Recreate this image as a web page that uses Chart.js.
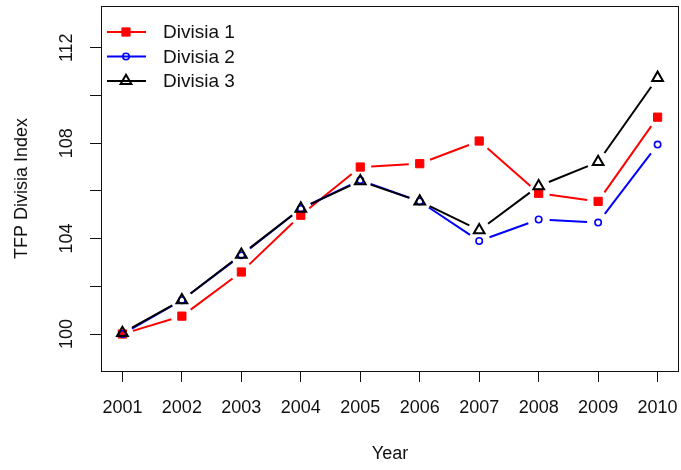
<!DOCTYPE html>
<html>
<head>
<meta charset="utf-8">
<script src="https://cdn.jsdelivr.net/npm/chart.js@4/dist/chart.umd.min.js"></script>
<style>
  html, body { margin: 0; padding: 0; background: #ffffff; }
  #wrap { width: 681px; height: 470px; }
</style>
</head>
<body>
<div id="wrap"><canvas id="chart" width="681" height="470"></canvas></div>
<script>
// TFP Divisia indices by year
const years = [2001, 2002, 2003, 2004, 2005, 2006, 2007, 2008, 2009, 2010];
const divisia1 = [100.0, 100.75, 102.6, 104.98, 107.0, 107.14, 108.09, 105.9, 105.56, 109.09];
const divisia2 = [100.0, 101.42, 103.3, 105.25, 106.45, 105.56, 103.9, 104.8, 104.67, 107.94];
const divisia3 = [100.05, 101.42, 103.33, 105.26, 106.41, 105.56, 104.35, 106.2, 107.21, 110.74];
const seriesNames = ['Divisia 1', 'Divisia 2', 'Divisia 3'];
const yTicks = [100, 102, 104, 106, 108, 110, 112];
const yLabelled = [100, 104, 108, 112];

const FONT = '"Liberation Sans", Arial, sans-serif';
const INK = '#111111';

function toPoints(values) {
  return values.map((v, i) => ({ x: years[i], y: v }));
}

// Fixed axis sizes with no extra edge padding
function fixSize(prop, size) {
  return s => {
    s[prop] = size;
    s.paddingLeft = 0;
    s.paddingRight = 0;
    s.paddingTop = 0;
    s.paddingBottom = 0;
  };
}

// Line segments that stop short of each marker (type "b" style)
const gappedLines = {
  id: 'gappedLines',
  beforeDatasetDraw(chart, args) {
    const ds = chart.data.datasets[args.index];
    const pts = args.meta.data;
    const gap = 11;
    const ctx = chart.ctx;
    ctx.save();
    ctx.strokeStyle = ds.borderColor;
    ctx.lineWidth = 2;
    ctx.lineCap = 'butt';
    for (let i = 0; i < pts.length - 1; i++) {
      const a = pts[i], b = pts[i + 1];
      const dx = b.x - a.x, dy = b.y - a.y;
      const len = Math.hypot(dx, dy);
      if (len <= 2 * gap) continue;
      const ux = dx / len, uy = dy / len;
      ctx.beginPath();
      ctx.moveTo(a.x + ux * gap, a.y + uy * gap);
      ctx.lineTo(b.x - ux * gap, b.y - uy * gap);
      ctx.stroke();
    }
    ctx.restore();
  }
};

// Frame around the plotting region
const frameBox = {
  id: 'frameBox',
  afterDraw(chart) {
    const { left, top, right, bottom } = chart.chartArea;
    const ctx = chart.ctx;
    ctx.save();
    ctx.strokeStyle = INK;
    ctx.lineWidth = 1;
    ctx.strokeRect(Math.round(left) + 0.5, Math.round(top) + 0.5,
                   Math.round(right - left) - 1, Math.round(bottom - top));
    ctx.restore();
  }
};

// Legend in the top-left corner: line through marker, then label
const cornerLegend = {
  id: 'cornerLegend',
  afterDraw(chart) {
    const ctx = chart.ctx;
    const x0 = 107, x1 = 146, xm = 126, xt = 163;
    const y0 = 32, dy = 24.5;
    ctx.save();
    chart.data.datasets.forEach((ds, i) => {
      const y = y0 + i * dy;
      ctx.strokeStyle = ds.borderColor;
      ctx.lineWidth = 2;
      ctx.beginPath();
      ctx.moveTo(x0, y);
      ctx.lineTo(x1, y);
      ctx.stroke();
      ctx.fillStyle = ds.pointBackgroundColor;
      ctx.strokeStyle = ds.pointBorderColor;
      ctx.lineWidth = ds.pointBorderWidth;
      Chart.helpers.drawPoint(ctx, {
        pointStyle: ds.pointStyle,
        radius: ds.pointRadius,
        rotation: 0,
        borderWidth: ds.pointBorderWidth
      }, xm, y);
      ctx.fillStyle = INK;
      ctx.font = '19px ' + FONT;
      ctx.textAlign = 'left';
      ctx.textBaseline = 'middle';
      ctx.fillText(ds.label, xt, y + 1);
    });
    ctx.restore();
  }
};

const baseSeries = {
  showLine: false,
  pointHoverRadius: 0
};

const data = {
  datasets: [
    Object.assign({}, baseSeries, {
      label: seriesNames[0],
      data: toPoints(divisia1),
      borderColor: '#ff0000',
      pointStyle: 'rect',
      pointRadius: 5.8,
      pointBorderWidth: 1,
      pointBackgroundColor: '#ff0000',
      pointBorderColor: '#ff0000',
      order: 3
    }),
    Object.assign({}, baseSeries, {
      label: seriesNames[1],
      data: toPoints(divisia2),
      borderColor: '#0000ff',
      pointStyle: 'circle',
      pointRadius: 3.2,
      pointBorderWidth: 1.6,
      pointBackgroundColor: 'rgba(255,255,255,0)',
      pointBorderColor: '#0000ff',
      order: 2
    }),
    Object.assign({}, baseSeries, {
      label: seriesNames[2],
      data: toPoints(divisia3),
      borderColor: '#000000',
      pointStyle: 'triangle',
      pointRadius: 6.2,
      pointBorderWidth: 2,
      pointBackgroundColor: 'rgba(255,255,255,0)',
      pointBorderColor: '#000000',
      order: 1
    })
  ]
};

new Chart(document.getElementById('chart'), {
  type: 'scatter',
  data: data,
  plugins: [gappedLines, frameBox, cornerLegend],
  options: {
    responsive: false,
    animation: false,
    events: [],
    layout: { autoPadding: false, padding: { top: 6, right: 2, left: 0, bottom: 0 } },
    plugins: {
      legend: { display: false },
      tooltip: { enabled: false }
    },
    scales: {
      x: {
        type: 'linear',
        min: 2000.64,
        max: 2010.36,
        afterFit: fixSize('height', 99),
        afterBuildTicks: s => { s.ticks = years.map(v => ({ value: v })); },
        border: { display: false },
        grid: {
          drawOnChartArea: false,
          drawTicks: true,
          tickLength: 11,
          color: INK,
          tickColor: INK,
          lineWidth: 1
        },
        ticks: {
          color: INK,
          font: { family: FONT, size: 18 },
          padding: 15,
          maxRotation: 0,
          autoSkip: false,
          callback: v => String(v)
        },
        title: {
          display: true,
          text: 'Year',
          color: INK,
          font: { family: FONT, size: 18 },
          padding: { top: 0, bottom: 5 }
        }
      },
      y: {
        type: 'linear',
        min: 98.45,
        max: 113.75,
        afterFit: fixSize('width', 101),
        afterBuildTicks: s => { s.ticks = yTicks.map(v => ({ value: v })); },
        border: { display: false },
        grid: {
          drawOnChartArea: false,
          drawTicks: true,
          tickLength: 11,
          color: INK,
          tickColor: INK,
          lineWidth: 1
        },
        ticks: {
          color: INK,
          font: { family: FONT, size: 18 },
          padding: 8,
          minRotation: 90,
          maxRotation: 90,
          crossAlign: 'center',
          autoSkip: false,
          callback: v => (yLabelled.includes(v) ? String(v) : '')
        },
        title: {
          display: true,
          text: 'TFP Divisia Index',
          color: INK,
          font: { family: FONT, size: 18 },
          padding: { top: 11, bottom: 0 }
        }
      }
    }
  }
});
</script>
</body>
</html>
